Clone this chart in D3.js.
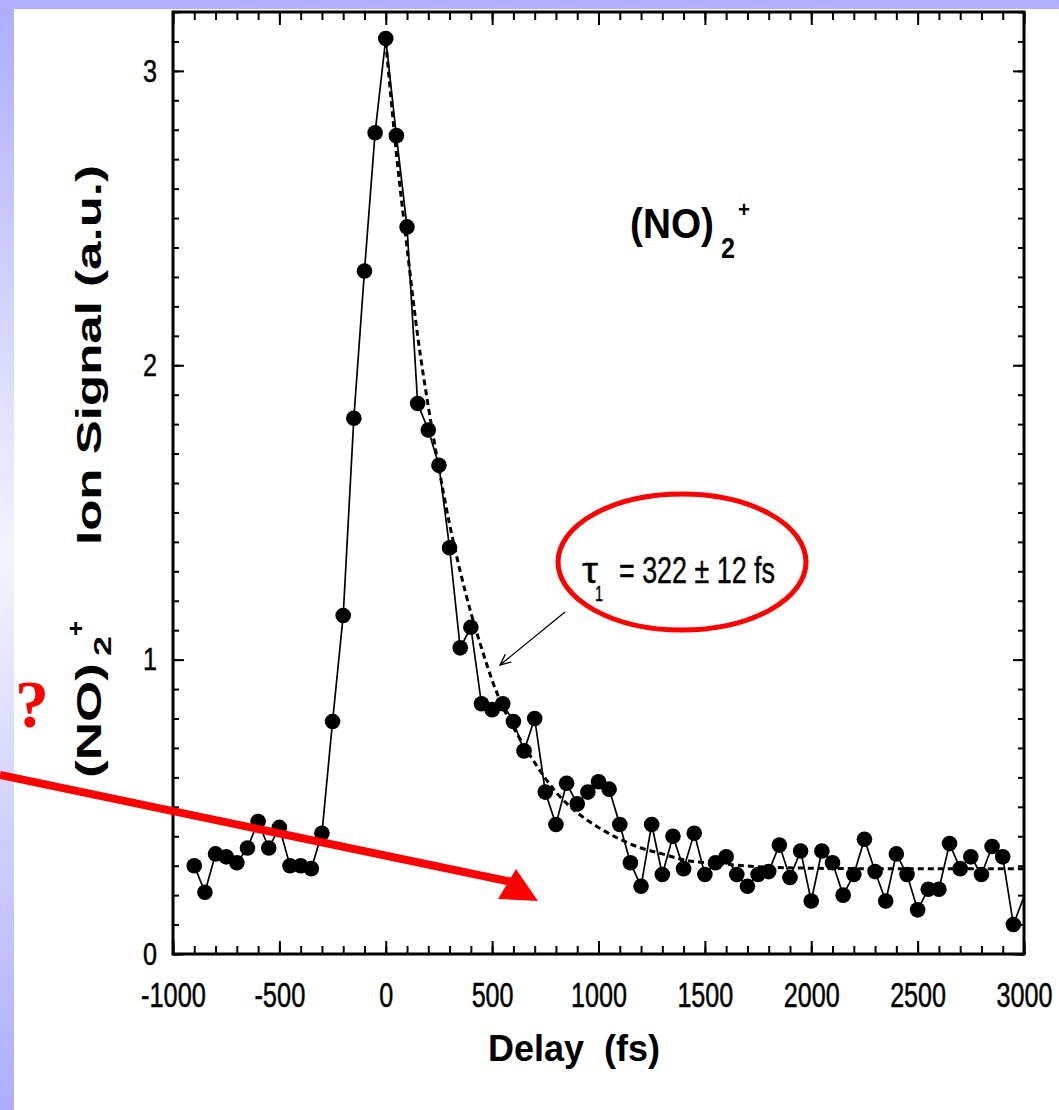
<!DOCTYPE html>
<html>
<head>
  <meta charset="UTF-8">
  <title>(NO)2+ ion signal vs delay</title>
  <script src="https://d3js.org/d3.v7.min.js"></script>
  <style>
    body { margin: 0; background: #fff; }
    svg { display: block; }
  </style>
</head>
<body>
<script>
  // pump-probe delay (fs) and measured (NO)2+ signal (a.u.)
  var delays = [-900, -850, -800, -750, -700, -650, -600, -550, -500, -450,
                -400, -350, -300, -250, -200, -150, -100, -50, 0, 50,
                100, 150, 200, 250, 300, 350, 400, 450, 500, 550,
                600, 650, 700, 750, 800, 850, 900, 950, 1000, 1050,
                1100, 1150, 1200, 1250, 1300, 1350, 1400, 1450, 1500, 1550,
                1600, 1650, 1700, 1750, 1800, 1850, 1900, 1950, 2000, 2050,
                2100, 2150, 2200, 2250, 2300, 2350, 2400, 2450, 2500, 2550,
                2600, 2650, 2700, 2750, 2800, 2850, 2900, 2950, 3050];
  var signal = [0.30, 0.21, 0.34, 0.33, 0.31, 0.36, 0.45, 0.36, 0.43, 0.30,
                0.30, 0.29, 0.41, 0.79, 1.15, 1.82, 2.32, 2.79, 3.11, 2.78,
                2.47, 1.87, 1.78, 1.66, 1.38, 1.04, 1.11, 0.85, 0.83, 0.85,
                0.79, 0.69, 0.80, 0.55, 0.44, 0.58, 0.51, 0.55, 0.585, 0.56,
                0.44, 0.31, 0.23, 0.44, 0.27, 0.40, 0.29, 0.41, 0.27, 0.31,
                0.33, 0.27, 0.23, 0.27, 0.28, 0.37, 0.26, 0.35, 0.18, 0.35,
                0.31, 0.20, 0.27, 0.39, 0.28, 0.18, 0.34, 0.27, 0.15, 0.22,
                0.22, 0.375, 0.29, 0.33, 0.27, 0.365, 0.33, 0.10, 0.29];

  // single exponential fit (tau = 322 fs), dashed curve
  var fitDelays = [0, 50, 100, 150, 200, 250, 300, 350, 400, 450, 500, 550, 600,
                   700, 800, 900, 1000, 1100, 1200, 1300, 1400, 1600, 1800, 2200, 3000];
  var fitSignal = [3.10, 2.72, 2.40, 2.10, 1.86, 1.65, 1.46, 1.30, 1.16, 1.04, 0.93, 0.84, 0.77,
                   0.65, 0.55, 0.48, 0.43, 0.39, 0.36, 0.34, 0.32, 0.305, 0.295, 0.29, 0.29];

  var xTicks = [-1000, -500, 0, 500, 1000, 1500, 2000, 2500, 3000];
  var yTicks = [0, 1, 2, 3];

  (function () {
    var W = 1059, H = 1110;
    var pLeft = 173, pRight = 1024, pTop = 12, pBottom = 954;
    var SANS = "'Liberation Sans', Arial, Helvetica, sans-serif";

    var svg = d3.select('body').append('svg')
        .attr('width', W)
        .attr('height', H);

    // slide background (lavender border)
    var defs = svg.append('defs');
    var grad = defs.append('linearGradient')
        .attr('id', 'slideGrad')
        .attr('x1', 0).attr('y1', 0).attr('x2', 0).attr('y2', 1);
    grad.append('stop').attr('offset', '0%').attr('stop-color', '#adadfd');
    grad.append('stop').attr('offset', '50%').attr('stop-color', '#f3f3ff');
    grad.append('stop').attr('offset', '100%').attr('stop-color', '#adadfd');
    svg.append('rect').attr('width', W).attr('height', H).attr('fill', 'url(#slideGrad)');
    svg.append('rect').attr('width', W).attr('height', 9).attr('fill', '#b0b0ff');
    svg.append('rect').attr('x', 14).attr('y', 9).attr('width', W - 14).attr('height', H - 9).attr('fill', '#fff');

    defs.append('clipPath').attr('id', 'plotClip')
      .append('rect')
        .attr('x', pLeft).attr('y', pTop)
        .attr('width', pRight - pLeft).attr('height', pBottom - pTop);

    var x = d3.scaleLinear().domain([-1000, 3000]).range([pLeft, pRight]);
    var y = d3.scaleLinear().domain([0, 3.2]).range([pBottom, pTop]);

    function digitsLen(s, w, dash) {
      var n = 0;
      for (var i = 0; i < s.length; i++) n += (s[i] === '-') ? dash : w;
      return n;
    }

    // axes: ticks point inward on all four sides
    var gx = svg.append('g').attr('transform', 'translate(0,' + pBottom + ')')
        .call(d3.axisBottom(x).tickValues(xTicks).tickSize(-13).tickPadding(28)
              .tickFormat(function (d) { return d < 0 ? '-' + Math.abs(d) : '' + d; }));
    gx.selectAll('text')
        .attr('font-family', SANS).attr('font-size', 35).attr('fill', '#000')
        .attr('stroke', '#000').attr('stroke-width', 0.5)
        .attr('lengthAdjust', 'spacingAndGlyphs')
        .attr('textLength', function () { return digitsLen(this.textContent, 14, 9); });
    svg.append('g').attr('transform', 'translate(0,' + pBottom + ')')
        .call(d3.axisBottom(x).tickValues(x.ticks(40)).tickSize(-8).tickFormat(''));
    svg.append('g').attr('transform', 'translate(0,' + pTop + ')')
        .call(d3.axisTop(x).tickValues(xTicks).tickSize(-13).tickFormat(''));
    svg.append('g').attr('transform', 'translate(0,' + pTop + ')')
        .call(d3.axisTop(x).tickValues(x.ticks(40)).tickSize(-8).tickFormat(''));

    var gy = svg.append('g').attr('transform', 'translate(' + pLeft + ',0)')
        .call(d3.axisLeft(y).tickValues(yTicks).tickSize(-11).tickPadding(16)
              .tickFormat(d3.format('d')));
    gy.selectAll('text')
        .attr('font-family', SANS).attr('font-size', 32).attr('fill', '#000')
        .attr('stroke', '#000').attr('stroke-width', 0.5)
        .attr('lengthAdjust', 'spacingAndGlyphs')
        .attr('textLength', function () { return digitsLen(this.textContent, 14, 9); });
    svg.append('g').attr('transform', 'translate(' + pLeft + ',0)')
        .call(d3.axisLeft(y).tickValues(y.ticks(32)).tickSize(-6).tickFormat(''));
    svg.append('g').attr('transform', 'translate(' + pRight + ',0)')
        .call(d3.axisRight(y).tickValues(yTicks).tickSize(-11).tickFormat(''));
    svg.append('g').attr('transform', 'translate(' + pRight + ',0)')
        .call(d3.axisRight(y).tickValues(y.ticks(32)).tickSize(-6).tickFormat(''));

    svg.selectAll('.domain').remove();
    svg.selectAll('.tick line').attr('stroke', '#000').attr('stroke-width', 2);

    svg.append('rect')
        .attr('x', pLeft).attr('y', pTop)
        .attr('width', pRight - pLeft).attr('height', pBottom - pTop)
        .attr('fill', 'none').attr('stroke', '#000').attr('stroke-width', 3);

    // fit curve
    var fitLine = d3.line()
        .x(function (d, i) { return x(fitDelays[i]); })
        .y(function (d) { return y(d); })
        .curve(d3.curveMonotoneX);
    svg.append('path')
        .datum(fitSignal)
        .attr('d', fitLine)
        .attr('fill', 'none').attr('stroke', '#000')
        .attr('stroke-width', 3).attr('stroke-dasharray', '6,4');

    // data
    var dataLine = d3.line()
        .x(function (d, i) { return x(delays[i]); })
        .y(function (d) { return y(d); });
    svg.append('path')
        .datum(signal)
        .attr('clip-path', 'url(#plotClip)')
        .attr('d', dataLine)
        .attr('fill', 'none').attr('stroke', '#000').attr('stroke-width', 1.7);
    svg.append('g')
        .attr('clip-path', 'url(#plotClip)')
      .selectAll('circle')
        .data(signal)
      .enter().append('circle')
        .attr('cx', function (d, i) { return x(delays[i]); })
        .attr('cy', function (d) { return y(d); })
        .attr('r', 7.8)
        .attr('fill', '#000');

    // axis titles
    svg.append('text')
        .attr('x', 488).attr('y', 1061)
        .attr('font-family', SANS).attr('font-weight', 'bold').attr('font-size', 36)
        .attr('textLength', 172).attr('lengthAdjust', 'spacingAndGlyphs')
        .attr('xml:space', 'preserve')
        .text('Delay  (fs)');

    function rotText(tx, ty, str, size, len) {
      return svg.append('text')
          .attr('transform', 'translate(' + tx + ',' + ty + ') rotate(-90)')
          .attr('font-family', SANS).attr('font-weight', 'bold').attr('font-size', size)
          .attr('textLength', len).attr('lengthAdjust', 'spacingAndGlyphs')
          .text(str);
    }
    rotText(101, 545, 'Ion Signal (a.u.)', 35, 380);
    rotText(101, 778, '(NO)', 35, 115);
    rotText(111, 656, '2', 24, 20);
    rotText(84, 636, '+', 24, 15);

    function plain(tx, ty, str, size, len, weight) {
      return svg.append('text')
          .attr('x', tx).attr('y', ty)
          .attr('font-family', SANS).attr('font-weight', weight || 'normal').attr('font-size', size)
          .attr('fill', '#000')
          .attr('textLength', len).attr('lengthAdjust', 'spacingAndGlyphs')
          .attr('xml:space', 'preserve')
          .text(str);
    }
    // in-plot species label
    plain(630, 238, '(NO)', 42, 84, 'bold');
    plain(721, 258, '2', 30, 14, 'bold');
    plain(738, 217, '+', 22, 12, 'bold');

    // lifetime annotation
    plain(582, 583, '\u03c4', 36, 16).attr('stroke', '#000').attr('stroke-width', 0.4);
    plain(595, 601, '1', 22, 8).attr('stroke', '#000').attr('stroke-width', 0.4);
    plain(619, 583, '= 322 \u00b1 12 fs', 36, 156).attr('stroke', '#000').attr('stroke-width', 0.4);

    defs.append('marker')
        .attr('id', 'openHead')
        .attr('viewBox', '0 0 12 12')
        .attr('refX', 11).attr('refY', 6)
        .attr('markerWidth', 12).attr('markerHeight', 12)
        .attr('markerUnits', 'userSpaceOnUse')
        .attr('orient', 'auto')
      .append('path')
        .attr('d', 'M0,1 L11,6 L0,11')
        .attr('fill', 'none').attr('stroke', '#000').attr('stroke-width', 1.3);
    svg.append('line')
        .attr('x1', 565).attr('y1', 612).attr('x2', 500).attr('y2', 665)
        .attr('stroke', '#000').attr('stroke-width', 1.3)
        .attr('marker-end', 'url(#openHead)');

    // slide overlays in red
    svg.append('ellipse')
        .attr('cx', 682).attr('cy', 562).attr('rx', 124).attr('ry', 68)
        .attr('fill', 'none').attr('stroke', '#ff0000').attr('stroke-width', 5);

    svg.append('line')
        .attr('x1', 0).attr('y1', 775).attr('x2', 512).attr('y2', 882)
        .attr('stroke', '#ff0000').attr('stroke-width', 8);
    svg.append('polygon')
        .attr('points', '498,899 538,901 516,869')
        .attr('fill', '#ff0000');

    svg.append('text')
        .attr('x', 15).attr('y', 727)
        .attr('font-family', "'Liberation Serif', 'Times New Roman', serif")
        .attr('font-weight', 'bold').attr('font-size', 68)
        .attr('fill', '#ff0000')
        .text('?');
  })();
</script>
</body>
</html>
